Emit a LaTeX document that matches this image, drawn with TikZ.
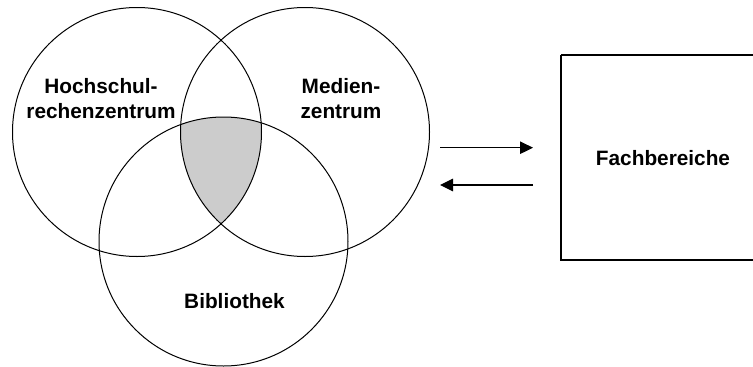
\documentclass[tikz,border=0pt]{standalone}
\usepackage{fontspec}
\setmainfont{Liberation Sans}
\usetikzlibrary{arrows.meta}
\begin{document}
\begin{tikzpicture}[x=1pt,y=-1pt,
  ring/.style={draw=black,line width=1pt,circle,minimum size=249pt,inner sep=0pt},
  lbl/.style={font=\fontsize{20.8}{25}\selectfont\bfseries,align=center,inner sep=0pt,anchor=base},
  flow/.style={line width=1.1pt,-{Triangle[length=13pt,width=12.5pt]}},
  box/.style={draw=black,line width=1.3pt}]
\useasboundingbox (0,0) rectangle (753,367);
\coordinate (cA) at (137,132);
\coordinate (cB) at (305,132);
\coordinate (cC) at (223.5,241.5);
\begin{scope}
  \clip (cA) circle (124.5);
  \clip (cB) circle (124.5);
  \fill[fill={rgb,255:red,204;green,204;blue,204}] (cC) circle (124.5);
\end{scope}
\node[ring] (A) at (cA) {};
\node[ring] (B) at (cB) {};
\node[ring] (C) at (cC) {};
\node[lbl] (tA) at (101,118.5) {Hochschul-\\rechenzentrum};
\node[lbl] (tB) at (341,118.5) {Medien-\\zentrum};
\node[lbl] (tC) at (234.5,308) {Bibliothek};
\draw[box] (561,55) -- (754,55) (561,55) -- (561,260) -- (754,260);
\node[lbl] (F) at (663,165) {Fachbereiche};
\coordinate (a1) at (440,147.7);
\coordinate (a2) at (533,147.7);
\coordinate (b1) at (533,185);
\coordinate (b2) at (440,185);
\draw[flow] (a1) -- (a2);
\draw[flow] (b1) -- (b2);
\end{tikzpicture}
\end{document}
